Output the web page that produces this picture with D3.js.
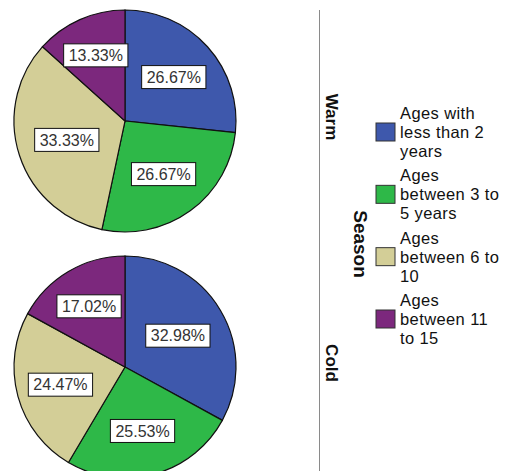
<!DOCTYPE html>
<html><head><meta charset="utf-8">
<script src="https://cdn.jsdelivr.net/npm/d3@7"></script>
<style>
html,body{margin:0;padding:0;background:#fff;}
svg{display:block;font-family:Arial,"Liberation Sans",sans-serif;}
</style></head>
<body>
<svg id="chart" width="516" height="471"></svg>
<script>
const categories = ["Ages with less than 2 years","Ages between 3 to 5 years","Ages between 6 to 10","Ages between 11 to 15"];
const legendLines = [["Ages with","less than 2","years"],["Ages","between 3 to","5 years"],["Ages","between 6 to","10"],["Ages","between 11","to 15"]];
const colors = ["#3E58AC","#2EB848","#D3CE97","#7C287D"];
const seasons = ["Warm","Cold"];
const warmValues = [26.67, 26.67, 33.33, 13.33];
const coldValues = [32.98, 25.53, 24.47, 17.02];
const panelTitle = "Season";

const svg = d3.select("#chart");
const R = 111;
const cx = 125;
const rowY = d3.scalePoint().domain(seasons).range([121, 367]);
const color = d3.scaleOrdinal().domain(categories).range(colors);
const pie = d3.pie().sort(null).value(d => d.v);
const arc = d3.arc().innerRadius(0).outerRadius(R);

function labelPos(d){
  const theta = d.endAngle - d.startAngle;
  const mid = (d.startAngle + d.endAngle)/2;
  const dist = theta >= 2*Math.PI ? 0 : (4*R*Math.sin(theta/2))/(3*theta);
  return [dist*Math.sin(mid), -dist*Math.cos(mid)];
}

[warmValues, coldValues].forEach((vals, i) => {
  const g = svg.append("g").attr("transform", `translate(${cx},${rowY(seasons[i])})`);
  const data = pie(vals.map((v,k)=>({v, c:categories[k]})));
  g.selectAll("path").data(data).join("path")
    .attr("d", arc)
    .attr("fill", d => color(d.data.c))
    .attr("stroke", "#111").attr("stroke-width", 1.2);
  const lab = g.selectAll("g.lab").data(data).join("g").attr("class","lab")
    .attr("transform", d => { const p = labelPos(d); return `translate(${p[0]},${p[1]})`; });
  lab.each(function(d){
    const s = d3.select(this);
    const t = s.append("text").text(d.data.v.toFixed(2) + "%")
      .attr("text-anchor","middle").attr("dy","0.36em")
      .attr("font-size", 16).attr("fill", "#333");
    const w = t.node().getComputedTextLength();
    s.insert("rect","text").attr("x", -w/2-5).attr("y", -11.5).attr("width", w+10).attr("height", 23)
      .attr("fill","#fff").attr("stroke","#111").attr("stroke-width",1);
  });
});

// divider line
svg.append("line").attr("x1",319.5).attr("x2",319.5).attr("y1",10).attr("y2",471)
  .attr("stroke","#8a8a8a").attr("stroke-width",1);

// panel labels
seasons.forEach(s => {
  svg.append("text").text(s)
    .attr("transform", `translate(326,${rowY(s)-4}) rotate(90)`)
    .attr("text-anchor","middle").attr("font-weight","bold").attr("font-size",17).attr("fill","#111");
});
svg.append("text").text(panelTitle)
  .attr("transform", `translate(354,${(rowY("Warm")+rowY("Cold"))/2}) rotate(90)`)
  .attr("text-anchor","middle").attr("font-weight","bold").attr("font-size",19).attr("fill","#111");

// legend
const itemY = d3.scalePoint().domain(categories).range([103, 290]);
const lineH = 19;
const leg = svg.selectAll("g.leg").data(categories).join("g").attr("class","leg")
  .attr("transform", d => `translate(376,${itemY(d)})`);
leg.append("rect").attr("x",0).attr("y",20).attr("width",19).attr("height",18)
  .attr("fill", d => color(d)).attr("stroke","#333").attr("stroke-width",1);
leg.each(function(d,i){
  const t = d3.select(this).append("text").attr("font-size",16.5).attr("letter-spacing",0.4).attr("fill","#111");
  legendLines[i].forEach((ln,k) => {
    t.append("tspan").attr("x",24).attr("y", 16 + k*lineH).text(ln);
  });
});
</script>
</body></html>
